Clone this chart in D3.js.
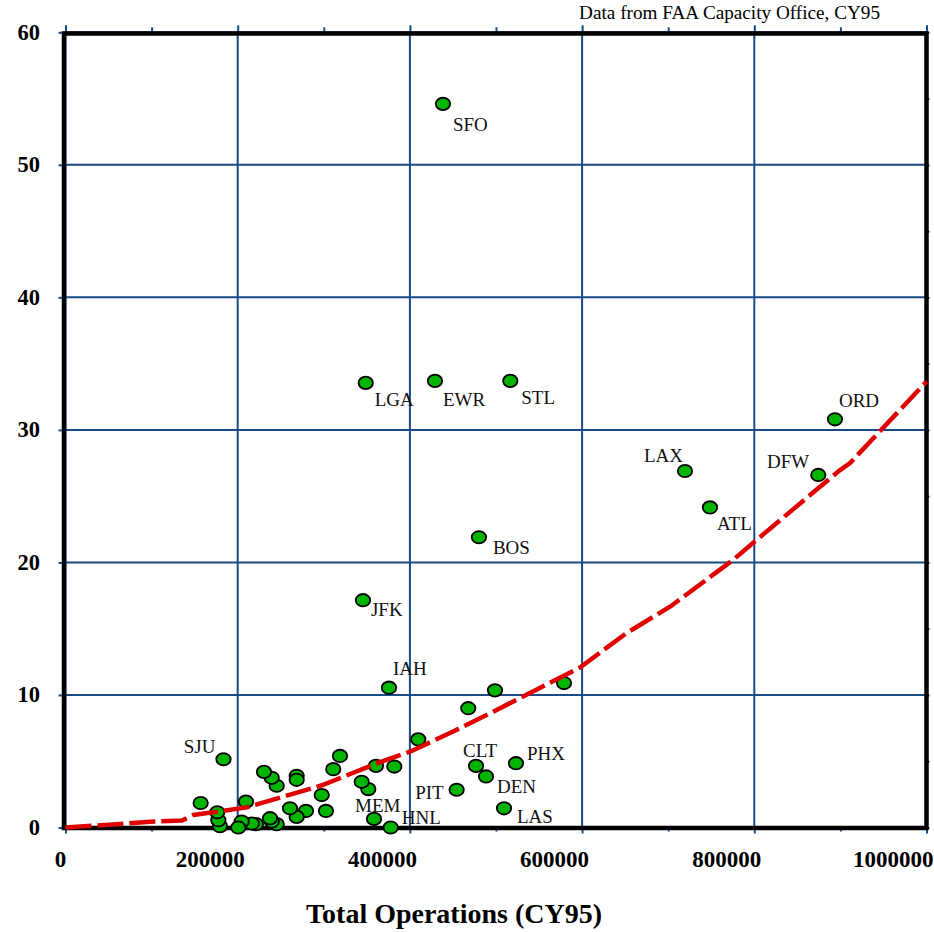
<!DOCTYPE html>
<html>
<head>
<meta charset="utf-8">
<script src="https://cdn.jsdelivr.net/npm/d3@7"></script>
<style>
  html, body { margin: 0; padding: 0; background: #ffffff; }
  svg { display: block; }
</style>
</head>
<body>
<svg id="chart" width="934" height="932"></svg>
<script>
// Airport codes ("" = unlabeled airport), CY95 total operations and the plotted metric
const airports = [
  "SFO", "LGA", "EWR", "STL", "ORD", "LAX", "DFW", "ATL", "BOS", "JFK",
  "IAH", "", "", "", "", "SJU", "PHX", "CLT", "DEN", "PIT",
  "LAS", "MEM", "HNL", "", "", "", "", "", "", "",
  "", "", "", "", "", "", "", "", "", "",
  "", "", "", "", "", "", "", "", "", "",
  ""
];
const operations = [
  438400, 348700, 429100, 516600, 893700, 719500, 874300, 748500, 480200, 345500,
  375700, 498800, 467800, 579000, 409700, 183500, 523200, 476800, 488400, 454300,
  509300, 358300, 377700, 381900, 360600, 351700, 344000, 318800, 311000, 302500,
  297600, 279300, 268500, 260700, 268500, 268500, 245300, 239500, 230500, 245300,
  239500, 237500, 221200, 216300, 204600, 200700, 209600, 179400, 177500, 176300,
  157000, 150400
];
const values = [
  54.6, 33.55, 33.7, 33.7, 30.8, 26.9, 26.6, 24.15, 21.9, 17.15,
  10.55, 10.35, 9.0, 10.9, 6.65, 5.15, 4.85, 4.65, 3.85, 2.85,
  1.45, 0.65, 0.0, 4.6, 4.65, 2.9, 3.45, 5.4, 4.4, 1.25,
  2.45, 1.25, 0.8, 1.45, 3.9, 3.6, 3.15, 3.75, 4.2, 0.25,
  0.45, 0.7, 0.25, 0.3, 0.45, 0.0, 1.95, 0.1, 0.55, 1.15,
  1.85, 0.1
];
// Trend curve (dashed red)
const trendOps = [
  0, 63300, 98100, 135300, 148400, 175600, 210400, 299100, 361400, 400100,
  446600, 496800, 597500, 651800, 702100, 775200, 798500, 876300, 899600, 911200,
  1000000
];
const trendValues = [
  0, 0.26, 0.44, 0.53, 0.94, 1.19, 1.52, 3.21, 4.84, 5.72,
  7.13, 8.74, 12.07, 14.68, 16.66, 20.18, 21.47, 25.71, 26.97, 27.5,
  33.64
];
const xTicks = [0, 200000, 400000, 600000, 800000, 1000000];
const xMinorTicks = [100000, 300000, 500000, 700000, 900000];
const yTicks = [0, 10, 20, 30, 40, 50, 60];
const yMinorTicks = [5, 15, 25, 35, 45, 55];
const xTitle = "Total Operations (CY95)";
const sourceNote = "Data from FAA Capacity Office, CY95";

// Label placement relative to each marker: [dx, dy, anchor]
const labelPlacement = {
  SFO: [10, 27, "start"], LGA: [9, 23, "start"], EWR: [8, 25, "start"],
  STL: [11, 23, "start"], ORD: [4, -12, "start"], LAX: [-2, -9, "end"],
  DFW: [-9, -7, "end"], ATL: [7, 23, "start"], BOS: [14, 17, "start"],
  JFK: [8, 16, "start"], IAH: [4, -13, "start"], SJU: [-8, -6, "end"],
  CLT: [-13, -9, "start"], PHX: [11, -3, "start"], DEN: [11, 17, "start"],
  PIT: [-13, 9, "end"], LAS: [13, 15, "start"], MEM: [-19, -7, "start"],
  HNL: [11, -4, "start"]
};

const GRID = "#184a86";
const SERIF = "'Liberation Serif', 'Times New Roman', Times, serif";

const svg = d3.select("#chart");
const x = d3.scaleLinear().domain([0, 1000000]).range([65.5, 926.5]);
const y = d3.scaleLinear().domain([0, 60]).range([827.5, 32.3]);
const [x0, x1] = x.range();
const [y0, y1] = y.range();

// Grid
const grid = svg.append("g").attr("stroke", GRID).attr("stroke-width", 2);
grid.selectAll("line.v").data(xTicks).join("line").attr("class", "v")
  .attr("x1", d => x(d)).attr("x2", d => x(d)).attr("y1", y1).attr("y2", y0);
grid.selectAll("line.h").data(yTicks).join("line").attr("class", "h")
  .attr("x1", x0).attr("x2", x1).attr("y1", d => y(d)).attr("y2", d => y(d));

// Tick marks outside the frame
function styleTicks(g) {
  g.select(".domain").remove();
  g.selectAll(".tick line").attr("stroke", GRID).attr("stroke-width", 2);
  g.selectAll(".tick text").remove();
}
svg.append("g").attr("transform", `translate(${x0},0)`)
  .call(d3.axisLeft(y).tickValues(yTicks).tickSize(7)).call(styleTicks);
svg.append("g").attr("transform", `translate(${x0},0)`)
  .call(d3.axisLeft(y).tickValues(yMinorTicks).tickSize(3)).call(styleTicks);
svg.append("g").attr("transform", `translate(0,${y1})`)
  .call(d3.axisTop(x).tickValues(xTicks).tickSize(7)).call(styleTicks);
svg.append("g").attr("transform", `translate(0,${y1})`)
  .call(d3.axisTop(x).tickValues(xMinorTicks).tickSize(5)).call(styleTicks);
svg.append("g").attr("transform", `translate(0,${y0})`)
  .call(d3.axisBottom(x).tickValues(xTicks).tickSize(6)).call(styleTicks);
svg.append("g").attr("transform", `translate(0,${y0})`)
  .call(d3.axisBottom(x).tickValues(xMinorTicks).tickSize(4)).call(styleTicks);
svg.append("g").attr("transform", `translate(${x1},0)`)
  .call(d3.axisRight(y).tickValues(yTicks.concat(yMinorTicks)).tickSize(3)).call(styleTicks);

// Frame
svg.append("rect")
  .attr("x", x0 - 1.5).attr("y", y1 + 1.2)
  .attr("width", x1 - x0 + 1.5).attr("height", y0 - y1 - 0.7)
  .attr("fill", "none").attr("stroke", "#000").attr("stroke-width", 4.5);

// Tick labels
svg.append("g").selectAll("text").data(yTicks).join("text")
  .attr("x", 40).attr("y", d => y(d) + 7.5)
  .attr("text-anchor", "end")
  .attr("font-family", SERIF).attr("font-weight", "bold").attr("font-size", 22.5)
  .text(d => d);
// x labels sit just left of their gridline, ending a few pixels past it
svg.append("g").selectAll("text").data(xTicks).join("text")
  .attr("x", d => d === 0 ? x(d) - 5 : x(d) + 7)
  .attr("y", 866.5)
  .attr("text-anchor", d => d === 0 ? "middle" : "end")
  .attr("font-family", SERIF).attr("font-weight", "bold").attr("font-size", 23)
  .text(d => d);

// Markers
const points = airports.map((name, i) => ({ name, ops: operations[i], v: values[i] }));
svg.append("g").selectAll("ellipse").data(points).join("ellipse")
  .attr("cx", d => x(d.ops)).attr("cy", d => y(d.v))
  .attr("rx", 7.2).attr("ry", 6.2)
  .attr("fill", "#00b400").attr("stroke", "#000").attr("stroke-width", 1.8);

// Trend curve
const trend = trendOps.map((o, i) => [o, trendValues[i]]);
svg.append("path").datum(trend)
  .attr("d", d3.line().x(d => x(d[0])).y(d => y(d[1])))
  .attr("fill", "none").attr("stroke", "#e00000").attr("stroke-width", 4.5)
  .attr("stroke-dasharray", "26,6");

// Airport labels
svg.append("g").selectAll("text").data(points.filter(d => d.name)).join("text")
  .attr("x", d => x(d.ops) + labelPlacement[d.name][0])
  .attr("y", d => y(d.v) + labelPlacement[d.name][1])
  .attr("text-anchor", d => labelPlacement[d.name][2])
  .attr("font-family", SERIF).attr("font-size", 19).attr("fill", "#111")
  .text(d => d.name);

// Axis title and source note
svg.append("text")
  .attr("x", 454).attr("y", 923).attr("text-anchor", "middle")
  .attr("font-family", SERIF).attr("font-weight", "bold").attr("font-size", 28)
  .text(xTitle);
svg.append("text")
  .attr("x", 880).attr("y", 19).attr("text-anchor", "end")
  .attr("font-family", SERIF).attr("font-size", 19.2)
  .text(sourceNote);
</script>
</body>
</html>
